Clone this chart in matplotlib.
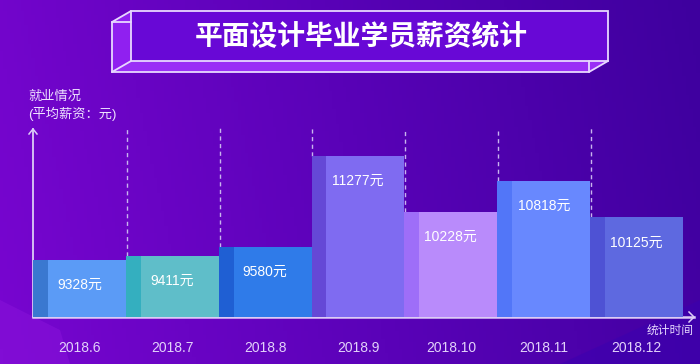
import numpy as np
import matplotlib
matplotlib.use("Agg")
import matplotlib.pyplot as plt
from matplotlib.patches import Polygon, Rectangle
from matplotlib.colors import LinearSegmentedColormap

plt.rcParams['font.family'] = ['Liberation Sans', 'Noto Sans CJK SC', 'DejaVu Sans']

# ---- data ----
title = "平面设计毕业学员薪资统计"
months = ["2018.6", "2018.7", "2018.8", "2018.9", "2018.10", "2018.11", "2018.12"]
salaries = [9328, 9411, 9580, 11277, 10228, 10818, 10125]
value_labels = [f"{v}元" for v in salaries]
y_label_lines = ["就业情况", "(平均薪资：元)"]
x_label = "统计时间"

main_colors = ["#5B9BF6", "#5FBEC9", "#2F7BE9", "#7F6BF1", "#B98BFB", "#6888FE", "#5E69E0"]
strip_colors = ["#3A78D0", "#34AFBF", "#1F5FD3", "#6548D6", "#9E6EF8", "#5276F8", "#4E52D4"]

W, H = 700, 364
fig = plt.figure(figsize=(W / 100, H / 100), dpi=100)

# background
bg = fig.add_axes([0, 0, 1, 1])
bg.set_xlim(0, W)
bg.set_ylim(H, 0)
bg.axis("off")
cmap = LinearSegmentedColormap.from_list("bg", ["#7806D0", "#5A02B8", "#3E009E"])
xx, yy = np.meshgrid(np.linspace(0, 1, 200), np.linspace(0, 1, 100))
grad = np.clip(xx * 0.9 + (0.2 - yy * 0.2) * 0.5, 0, 1)
bg.imshow(grad, cmap=cmap, extent=[0, W, H, 0], aspect="auto", zorder=0)
# subtle lighter shapes bottom-left
bg.add_patch(Polygon([[0, 364], [0, 300], [60, 330], [70, 364]], closed=True,
                     facecolor="#8A14DA", alpha=0.5, edgecolor="none", zorder=1))
bg.add_patch(Polygon([[560, 364], [700, 300], [700, 364]], closed=True,
                     facecolor="#3A00B0", alpha=0.5, edgecolor="none", zorder=1))

# title 3D box
ec = "#E8D8FF"
# left face
bg.add_patch(Polygon([[112, 22], [131, 11], [131, 61], [112, 72]], closed=True,
                     facecolor="#9020F0", edgecolor="none", zorder=2))
# bottom face
bg.add_patch(Polygon([[112, 72], [131, 61], [608, 61], [589, 72]], closed=True,
                     facecolor="#9A2EF6", edgecolor="none", zorder=2))
# front face
bg.add_patch(Rectangle((131, 11), 477, 50, facecolor="#6808D6", edgecolor=ec,
                       linewidth=1.3, zorder=3))
lines = [
    [(112, 22), (131, 11)], [(112, 22), (131, 22)], [(112, 22), (112, 72)],
    [(112, 72), (589, 72)], [(112, 72), (131, 61)], [(589, 72), (608, 61)],
    [(589, 61), (589, 72)],
]
for (x0, y0), (x1, y1) in lines:
    bg.plot([x0, x1], [y0, y1], color=ec, lw=1.3, zorder=4, solid_capstyle="round")
bg.text(361, 36, title, color="white", fontsize=20, fontweight="bold",
        ha="center", va="center", family=["Noto Sans CJK SC"], zorder=5)

# axis labels
bg.text(28, 97, y_label_lines[0], color="#EEE2FF", fontsize=9.5, ha="left", va="center", zorder=5)
bg.text(28, 114, y_label_lines[1], color="#EEE2FF", fontsize=9.5, ha="left", va="center", zorder=5)
bg.text(694, 331, x_label, color="#E6D8FF", fontsize=8.5, ha="right", va="center", zorder=5)

# chart axes
left_px, right_px, base_px, top_px = 33, 683, 317, 128
ax = fig.add_axes([left_px / W, (H - base_px) / H, (right_px - left_px) / W, (base_px - top_px) / H])
ax.patch.set_alpha(0)
ax.set_xlim(-0.5, len(months) - 0.5)
ymin, ymax = 8256, 11806
ax.set_ylim(ymin, ymax)
ax.axis("off")

x = np.arange(len(months))
strip = 0.16
ax.bar(x, [s - ymin for s in salaries], bottom=ymin, width=1.0, color=main_colors,
       edgecolor="none", zorder=2)
ax.bar(x - 0.5 + strip / 2, [s - ymin for s in salaries], bottom=ymin, width=strip,
       color=strip_colors, edgecolor="none", zorder=3)

# dashed guide lines at left edges of bars 2..7
for i in range(1, len(months)):
    ax.plot([x[i] - 0.5 + 0.01, x[i] - 0.5 + 0.01], [salaries[i], ymax],
            color="#C8B4EE", lw=1.0, ls=(0, (3, 2.5)), zorder=1, clip_on=False)

# value labels
px_per_unit = (base_px - top_px) / (ymax - ymin)
for i, v in enumerate(salaries):
    ax.text(x[i], v - 25 / px_per_unit, value_labels[i], color="white", fontsize=10,
            ha="center", va="center", zorder=5)
    ax.text(x[i], ymin - 31 / px_per_unit, months[i], color="#E2D2FA", fontsize=10,
            ha="center", va="center", zorder=5, clip_on=False)

# axes lines with arrows (pixel coordinates on background axes)
axc = "#DCCCF6"
bg.plot([33, 33], [317, 129], color=axc, lw=1.3, zorder=6)
bg.plot([29, 33, 37], [134, 129, 134], color=axc, lw=1.1, zorder=6)
bg.plot([33, 694], [317, 317], color=axc, lw=1.8, zorder=6)
bg.plot([689, 694, 689], [312, 317, 322], color=axc, lw=1.1, zorder=6)

fig.savefig("out.png", dpi=100)
